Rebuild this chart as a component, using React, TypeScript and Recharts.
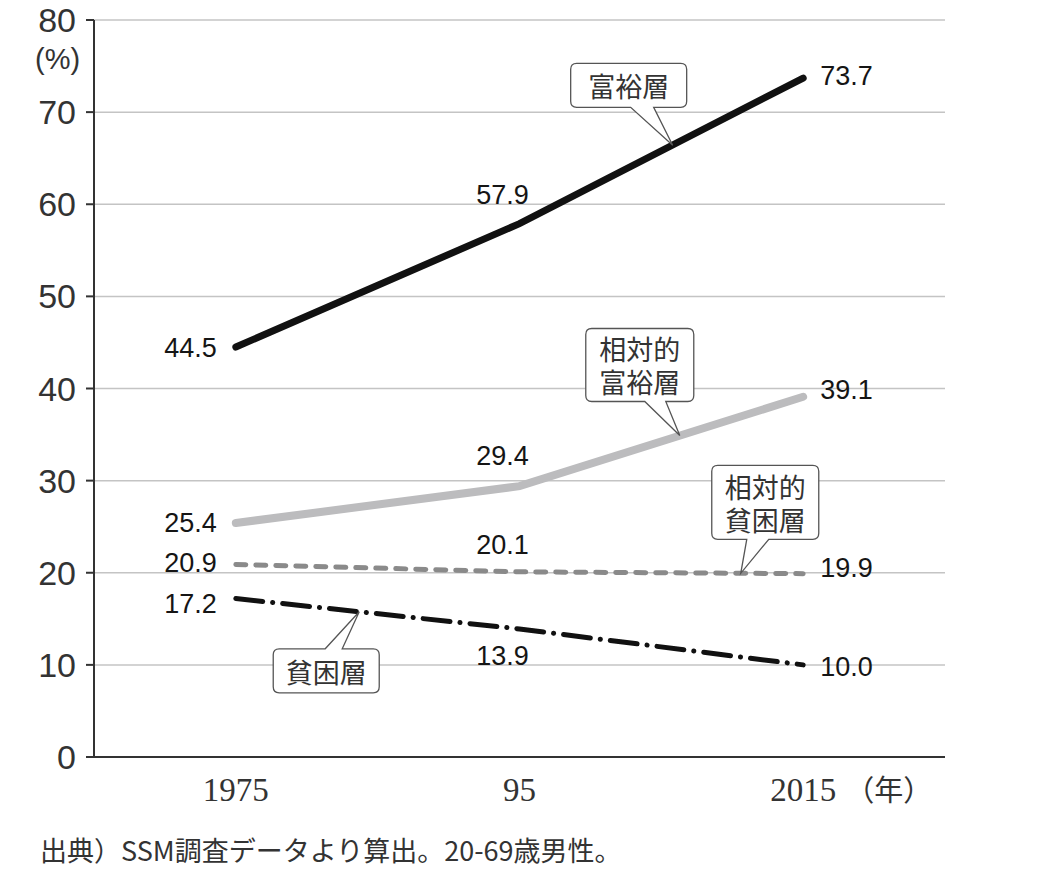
import React from "react";
import {
  LineChart,
  Line,
  XAxis,
  YAxis,
  CartesianGrid,
  LabelList,
  ReferenceDot,
} from "recharts";

const years = [1975, 1995, 2015];
const xTickLabels = ["1975", "95", "2015"];
const richValues = [44.5, 57.9, 73.7];
const relRichValues = [25.4, 29.4, 39.1];
const relPoorValues = [20.9, 20.1, 19.9];
const poorValues = [17.2, 13.9, 10.0];
const yTicks = [0, 10, 20, 30, 40, 50, 60, 70, 80];

const data = years.map((year, i) => ({
  year,
  rich: richValues[i],
  relRich: relRichValues[i],
  relPoor: relPoorValues[i],
  poor: poorValues[i],
}));

const sans = "'Liberation Sans', Arial, sans-serif";
const cjk = "'Noto Sans CJK JP', sans-serif";

// label offsets for each point (left, middle, right)
const richLabelPos = [
  { dx: -19, dy: 1, anchor: "end" },
  { dx: -17, dy: -29, anchor: "middle" },
  { dx: 17, dy: -2, anchor: "start" },
];
const relRichLabelPos = [
  { dx: -19, dy: 0, anchor: "end" },
  { dx: -17, dy: -30, anchor: "middle" },
  { dx: 17, dy: -7, anchor: "start" },
];
const relPoorLabelPos = [
  { dx: -19, dy: -1, anchor: "end" },
  { dx: -17, dy: -27, anchor: "middle" },
  { dx: 17, dy: -6, anchor: "start" },
];
const poorLabelPos = [
  { dx: -19, dy: 5, anchor: "end" },
  { dx: -17, dy: 27, anchor: "middle" },
  { dx: 17, dy: 2, anchor: "start" },
];

const makeLabel = (pos: any[]) => (props: any) => {
  const { x, y, value, index } = props;
  const p = pos[index];
  return (
    <text
      x={x + p.dx}
      y={y + p.dy}
      textAnchor={p.anchor}
      dominantBaseline="central"
      fontSize={27}
      fontFamily={sans}
      fill="#151515"
    >
      {Number(value).toFixed(1)}
    </text>
  );
};

const XTick = (props: any) => {
  const { x, y, payload } = props;
  const idx = years.indexOf(payload.value);
  const label = xTickLabels[idx];
  return (
    <g>
      <text
        x={x}
        y={y + 36}
        textAnchor="middle"
        fontSize={33}
        fontFamily="'Liberation Serif', 'Times New Roman', serif"
        fill="#333"
      >
        {label}
      </text>
      {idx === years.length - 1 && (
        <text
          x={x + 42}
          y={y + 36}
          textAnchor="start"
          fontSize={29}
          fontFamily={cjk}
          fill="#333"
        >
          （年）
        </text>
      )}
    </g>
  );
};

const Callout = (props: any) => {
  const { cx, cy, lines, l, r, t, b, w1, w2, side } = props;
  const L = cx + l;
  const R = cx + r;
  const T = cy + t;
  const B = cy + b;
  const rr = 6;
  let d = "";
  if (side === "bottom") {
    d = `M ${L + rr} ${T} H ${R - rr} Q ${R} ${T} ${R} ${T + rr} V ${B - rr} Q ${R} ${B} ${R - rr} ${B} H ${cx + w2} L ${cx} ${cy} L ${cx + w1} ${B} H ${L + rr} Q ${L} ${B} ${L} ${B - rr} V ${T + rr} Q ${L} ${T} ${L + rr} ${T} Z`;
  } else {
    d = `M ${L + rr} ${T} H ${cx + w1} L ${cx} ${cy} L ${cx + w2} ${T} H ${R - rr} Q ${R} ${T} ${R} ${T + rr} V ${B - rr} Q ${R} ${B} ${R - rr} ${B} H ${L + rr} Q ${L} ${B} ${L} ${B - rr} V ${T + rr} Q ${L} ${T} ${L + rr} ${T} Z`;
  }
  const midX = (L + R) / 2;
  const midY = (T + B) / 2;
  const lh = 33;
  return (
    <g>
      <path d={d} fill="#fff" stroke="#555" strokeWidth={1.3} />
      <text
        x={midX}
        textAnchor="middle"
        dominantBaseline="central"
        fontSize={27}
        fontFamily={cjk}
        fill="#333"
      >
        {lines.map((s: string, i: number) => (
          <tspan key={i} x={midX} y={midY + (i - (lines.length - 1) / 2) * lh}>
            {s}
          </tspan>
        ))}
      </text>
    </g>
  );
};

export default function App() {
  return (
    <div style={{ position: "absolute", left: 0, top: 0, width: 1040, height: 883, background: "#fff" }}>
      <LineChart
        width={1040}
        height={883}
        data={data}
        margin={{ top: 20, right: 95, left: 0, bottom: 66 }}
      >
        <CartesianGrid vertical={false} stroke="#c4c4c4" strokeWidth={1.5} />
        <XAxis
          dataKey="year"
          type="number"
          domain={[1965, 2025]}
          ticks={years}
          tickLine={false}
          axisLine={{ stroke: "#333", strokeWidth: 2 }}
          tick={<XTick />}
          height={60}
        />
        <YAxis
          domain={[0, 80]}
          ticks={yTicks}
          width={94}
          tickSize={8}
          tickMargin={10}
          tickLine={{ stroke: "#333", strokeWidth: 2 }}
          axisLine={{ stroke: "#333", strokeWidth: 2 }}
          tick={{ fontSize: 34, fontFamily: sans, fill: "#333" }}
        />
        <Line
          dataKey="relRich"
          stroke="#bcbcbe"
          strokeWidth={8}
          strokeLinecap="round"
          dot={false}
          isAnimationActive={false}
        >
          <LabelList dataKey="relRich" content={makeLabel(relRichLabelPos)} />
        </Line>
        <Line
          dataKey="relPoor"
          stroke="#8a8a8a"
          strokeWidth={5}
          strokeDasharray="10 10"
          strokeLinecap="round"
          dot={false}
          isAnimationActive={false}
        >
          <LabelList dataKey="relPoor" content={makeLabel(relPoorLabelPos)} />
        </Line>
        <Line
          dataKey="poor"
          stroke="#111"
          strokeWidth={5}
          strokeDasharray="27 10 0.1 10"
          strokeLinecap="round"
          dot={false}
          isAnimationActive={false}
        >
          <LabelList dataKey="poor" content={makeLabel(poorLabelPos)} />
        </Line>
        <Line
          dataKey="rich"
          stroke="#111"
          strokeWidth={7}
          strokeLinecap="round"
          dot={false}
          isAnimationActive={false}
        >
          <LabelList dataKey="rich" content={makeLabel(richLabelPos)} />
        </Line>
        <ReferenceDot
          x={2005.8}
          y={66.4}
          shape={(p: any) => (
            <Callout {...p} lines={["富裕層"]} l={-102} r={14} t={-82} b={-38} w1={-42} w2={-19} side="bottom" />
          )}
        />
        <ReferenceDot
          x={2006.3}
          y={34.9}
          shape={(p: any) => (
            <Callout {...p} lines={["相対的", "富裕層"]} l={-94} r={14} t={-107} b={-34} w1={-35} w2={-14} side="bottom" />
          )}
        />
        <ReferenceDot
          x={2010.6}
          y={19.94}
          shape={(p: any) => (
            <Callout {...p} lines={["相対的", "貧困層"]} l={-29} r={78} t={-108} b={-34} w1={6} w2={28} side="bottom" />
          )}
        />
        <ReferenceDot
          x={1983.7}
          y={15.76}
          shape={(p: any) => (
            <Callout {...p} lines={["貧困層"]} l={-86} r={20} t={37} b={81} w1={-34} w2={-17} side="top" />
          )}
        />
      </LineChart>
      <div
        style={{
          position: "absolute",
          left: 35,
          top: 42,
          fontSize: 29,
          fontFamily: sans,
          color: "#333",
          lineHeight: "34px",
        }}
      >
        (%)
      </div>
      <div
        style={{
          position: "absolute",
          left: 40,
          top: 834,
          fontSize: 27,
          fontFamily: cjk,
          color: "#333",
          lineHeight: "32px",
        }}
      >
        出典）SSM調査データより算出。20-69歳男性。
      </div>
    </div>
  );
}
